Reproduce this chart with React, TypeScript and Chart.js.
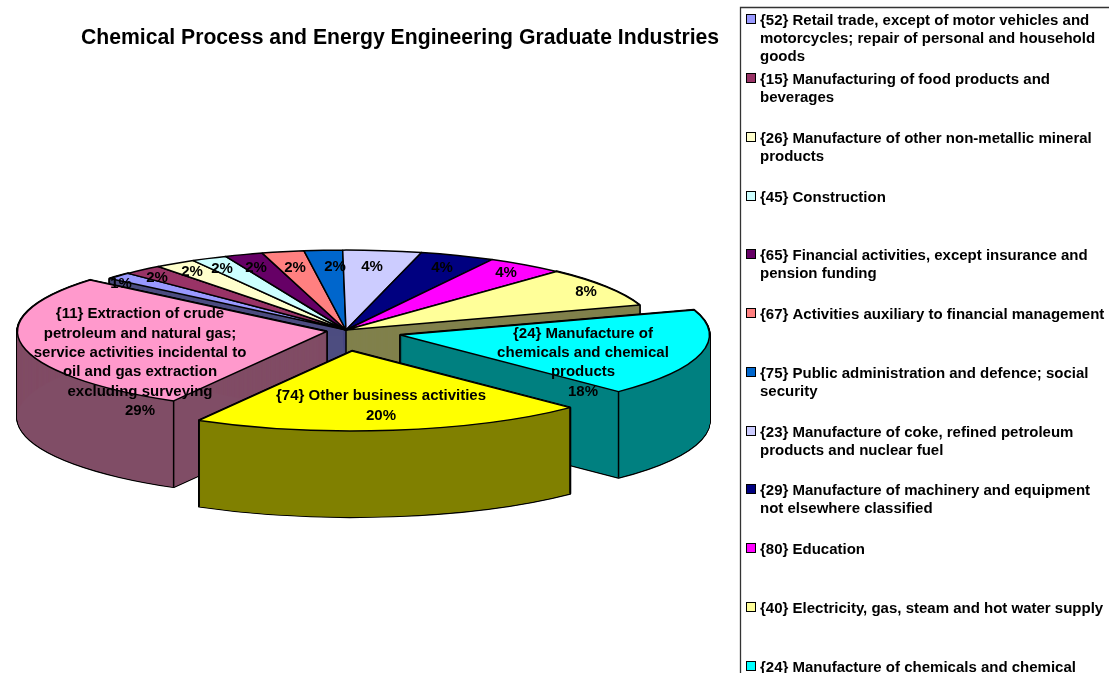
import React, { useEffect, useRef } from "react";
import { Chart, registerables } from "chart.js";

Chart.register(...registerables);

const chartTitle = "Chemical Process and Energy Engineering Graduate Industries";

const categories: string[][] = [
  ["{52} Retail trade, except of motor vehicles and", "motorcycles; repair of personal and household", "goods"],
  ["{15} Manufacturing of food products and", "beverages"],
  ["{26} Manufacture of other non-metallic mineral", "products"],
  ["{45} Construction"],
  ["{65} Financial activities, except insurance and", "pension funding"],
  ["{67} Activities auxiliary to financial management"],
  ["{75} Public administration and defence; social", "security"],
  ["{23} Manufacture of coke, refined petroleum", "products and nuclear fuel"],
  ["{29} Manufacture of machinery and equipment", "not elsewhere classified"],
  ["{80} Education"],
  ["{40} Electricity, gas, steam and hot water supply"],
  ["{24} Manufacture of chemicals and chemical", "products"],
  ["{74} Other business activities"],
  ["{11} Extraction of crude petroleum and natural gas;", "service activities incidental to oil and gas", "extraction excluding surveying"],
];

// Slice sizes
const sliceValues = [1.4, 2.06, 2.17, 1.86, 2, 2.2, 2, 4.1, 3.9, 4.1, 8, 17.6, 20.7, 27.9];

const sliceColors = [
  "#9999ff", "#993366", "#ffffcc", "#ccffff", "#660066", "#ff8080", "#0066cc",
  "#ccccff", "#000080", "#ff00ff", "#ffff99", "#00ffff", "#ffff00", "#ff99cc",
];

// Printed data labels
const labelTexts: string[][] = [
  ["1%"], ["2%"], ["2%"], ["2%"], ["2%"], ["2%"], ["2%"], ["4%"], ["4%"], ["4%"], ["8%"],
  ["{24} Manufacture of", "chemicals and chemical", "products", "18%"],
  ["{74} Other business activities", "20%"],
  ["{11} Extraction of crude", "petroleum and natural gas;", "service activities incidental to", "oil and gas extraction", "excluding surveying", "29%"],
];

// Label anchors: centre x and first-line centre y
const labelAnchors: [number, number][] = [
  [121, 284], [157, 278], [192, 272], [222, 269], [256, 268], [295, 268], [335, 267],
  [372, 267], [442, 268], [506, 273], [586, 292], [583, 333.5], [381, 396], [140, 314],
];

// Pull-out of each slice on screen, in pixels [x, y]
const explode: [number, number][] = [
  [0, 0], [0, 0], [0, 0], [0, 0], [0, 0], [0, 0], [0, 0], [0, 0], [0, 0], [0, 0], [0, 0],
  [54.5, 5], [6, 21], [-19.5, 1.5],
];

const WIDTH = 1109;
const HEIGHT = 673;
const SQUASH = 0.2585;
const DEPTH = 86;
const STEP = 0.25;
const LINE = 1.5;
const FONT = '"Liberation Sans", Arial, sans-serif';

const halve = (hex: string) => {
  const n = parseInt(hex.slice(1), 16);
  const c = (v: number) => Math.round(v / 2);
  return `rgb(${c((n >> 16) & 255)},${c((n >> 8) & 255)},${c(n & 255)})`;
};

const pie3d = {
  id: "pie3d",
  beforeDatasetDraw(chart: any) {
    const ctx = chart.ctx as any;
    const arcs = chart.getDatasetMeta(0).data;
    const origStroke = ctx.stroke;
    ctx.stroke = function () {
      const m = ctx.getTransform();
      ctx.setTransform(1, 0, 0, 1, 0, 0);
      origStroke.call(ctx);
      ctx.setTransform(m);
    };
    const paint = (i: number, k: number, over?: any) => {
      const el = arcs[i];
      const [dx, dy] = explode[i];
      const saved = el.options;
      if (over) el.options = { ...saved, ...over };
      ctx.save();
      ctx.setTransform(1, 0, 0, SQUASH, dx, el.y * (1 - SQUASH) + dy + k);
      el.draw(ctx);
      ctx.restore();
      el.options = saved;
    };
    const outline = (i: number) => {
      for (let k = 0; k <= DEPTH; k += STEP * 2) {
        paint(i, k, { backgroundColor: "#000", borderColor: "#000", borderWidth: LINE * 1.6 });
      }
    };
    const fill = (i: number, color: string) => {
      for (let k = 0; k <= DEPTH; k += STEP) {
        paint(i, k, { backgroundColor: color, borderWidth: 0 });
      }
    };
    const vertical = (x: number, y: number) => {
      ctx.save();
      ctx.setTransform(1, 0, 0, 1, 0, 0);
      ctx.strokeStyle = "#000";
      ctx.lineWidth = LINE;
      ctx.beginPath();
      ctx.moveTo(x, y);
      ctx.lineTo(x, y + DEPTH);
      origStroke.call(ctx);
      ctx.restore();
    };
    const frontCorners = (i: number) => {
      const el = arcs[i];
      const [dx, dy] = explode[i];
      for (const a of [el.startAngle, el.endAngle]) {
        if (Math.sin(a) <= 0) continue;
        vertical(el.x + dx + el.outerRadius * Math.cos(a), el.y + dy + el.outerRadius * Math.sin(a) * SQUASH);
      }
    };

    // the two radial walls of the slices that stay in place: left half in the
    // shade of the first slice, right half in the shade of the last fixed slice
    outline(0);
    outline(10);
    for (let i = 7; i <= 10; i++) fill(i, halve(sliceColors[10]));
    for (let i = 0; i <= 6; i++) fill(i, halve(sliceColors[0]));
    vertical(arcs[0].x, arcs[0].y);
    for (let i = 0; i <= 10; i++) paint(i, 0);
    // exploded slices, back to front
    for (const i of [13, 11, 12]) {
      outline(i);
      fill(i, halve(sliceColors[i]));
      frontCorners(i);
      paint(i, 0);
    }
    delete ctx.stroke;
    return false;
  },
  afterDraw(chart: any) {
    const ctx = chart.ctx;
    ctx.save();
    ctx.setTransform(1, 0, 0, 1, 0, 0);
    ctx.fillStyle = "#000";
    ctx.textBaseline = "middle";

    // title
    ctx.font = `bold 21.2px ${FONT}`;
    ctx.textAlign = "center";
    ctx.fillText(chartTitle, 400, 38.5);

    // data labels
    ctx.font = `bold 15px ${FONT}`;
    labelTexts.forEach((lines, i) => {
      const [x, y] = labelAnchors[i];
      lines.forEach((t, j) => ctx.fillText(t, x, y + j * 19.4));
    });

    // legend
    ctx.strokeStyle = "#333";
    ctx.lineWidth = 1.3;
    ctx.beginPath();
    ctx.moveTo(WIDTH, 7.5);
    ctx.lineTo(740.5, 7.5);
    ctx.lineTo(740.5, HEIGHT);
    ctx.stroke();
    ctx.textAlign = "left";
    ctx.lineWidth = 1;
    categories.forEach((lines, i) => {
      const y = 21.3 + i * 58.75;
      if (y > HEIGHT + 6) return;
      ctx.fillStyle = sliceColors[i];
      ctx.fillRect(746.5, Math.round(y) - 6.5, 9, 9);
      ctx.strokeStyle = "#000";
      ctx.strokeRect(746.5, Math.round(y) - 6.5, 9, 9);
      ctx.fillStyle = "#000";
      lines.forEach((t, j) => {
        const ly = y + j * 18;
        if (ly < HEIGHT + 6) ctx.fillText(t, 760, ly);
      });
    });
    ctx.restore();
  },
};

export default function App() {
  const ref = useRef<HTMLCanvasElement>(null);
  useEffect(() => {
    document.body.style.margin = "0";
    const chart = new Chart(ref.current!, {
      type: "pie",
      data: {
        labels: categories.map((l) => l.join(" ")),
        datasets: [
          {
            data: sliceValues,
            backgroundColor: sliceColors,
            borderColor: "#000",
            borderWidth: LINE,
            borderJoinStyle: "round",
          },
        ],
      },
      options: {
        animation: false,
        responsive: false,
        rotation: -49.9,
        radius: 309,
        layout: { padding: { left: 0, top: 0, right: WIDTH - 692, bottom: HEIGHT - 660 } },
        plugins: { legend: { display: false }, tooltip: { enabled: false } },
      },
      plugins: [pie3d],
    } as any);
    return () => chart.destroy();
  }, []);
  return (
    <div style={{ width: WIDTH, height: HEIGHT, overflow: "hidden", background: "#fff" }}>
      <canvas ref={ref} width={WIDTH} height={HEIGHT} style={{ display: "block" }} />
    </div>
  );
}
